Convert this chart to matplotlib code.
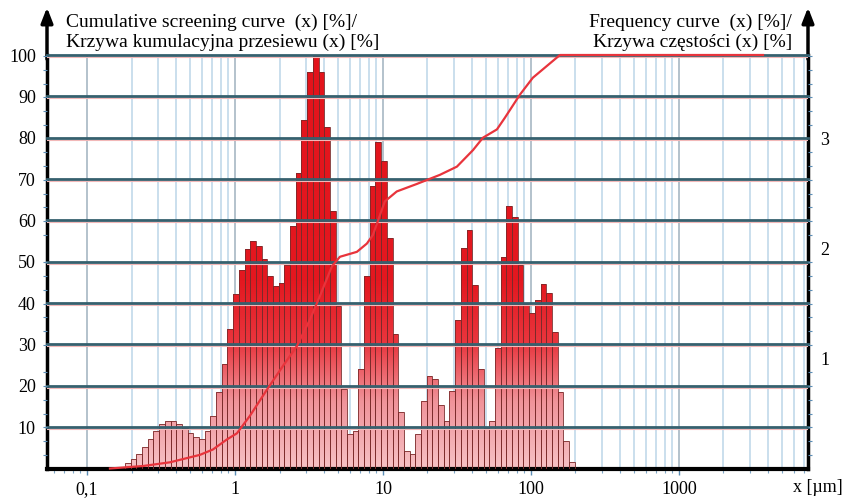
import numpy as np
import matplotlib
matplotlib.use('Agg')
import matplotlib.pyplot as plt
from matplotlib.colors import LinearSegmentedColormap
from matplotlib.path import Path
from matplotlib.ticker import FixedLocator, NullFormatter

plt.rcParams['font.family'] = ['Liberation Serif', 'DejaVu Serif']

# frequency histogram, one bar per size class (26 classes per decade, from 0.18 um)
first_edge = 0.1807
classes_per_decade = 26
freq = [1.3, 2.3, 3.5, 5.1, 7.1, 9.1, 10.7, 11.5, 11.5, 10.7, 9.7, 8.6, 7.5, 7.1, 9.1, 12.7,
        18.4, 25.2, 33.7, 42.1, 48.1, 53.0, 55.0, 53.8, 50.6, 46.5, 44.1, 44.9, 49.3, 58.6,
        71.5, 84.3, 96.0, 100.0, 96.0, 82.7, 62.2, 39.3, 19.2, 8.3, 9.0, 24.0, 46.5, 68.2, 79.0,
        74.3, 55.8, 32.5, 13.7, 4.3, 3.5, 8.3, 16.4, 22.4, 21.7, 15.3, 11.5, 18.8, 36.0, 53.4,
        57.6, 44.3, 24.0, 9.9, 11.4, 29.2, 51.1, 63.6, 60.8, 49.3, 39.7, 37.7, 40.7, 44.5, 42.5,
        32.9, 18.4, 6.7, 1.5]

# cumulative screening curve
cum_x = [0.143, 0.239, 0.364, 0.58, 0.71, 0.88, 1.03, 1.26, 1.64, 2.11, 2.62, 3.21, 3.75,
         4.52, 5.12, 6.67, 7.79, 8.56, 10.3, 12.4, 16.9, 24.2, 31.6, 40.6, 47.4, 58.9, 66.6,
         84.2, 103, 157, 3700]
cum_y = [0, 0.6, 1.5, 3.3, 4.6, 7.0, 8.5, 12.7, 19.0, 24.8, 29.6, 36.0, 41.7, 48.9, 51.2,
         52.4, 54.4, 56.5, 64.6, 67.0, 68.8, 71.0, 73.0, 77.0, 80.0, 82.0, 84.8, 90.4, 94.5,
         100, 100]

x_ticks = [0.1, 1, 10, 100, 1000]
x_ticklabels = ['0,1', '1', '10', '100', '1000']
left_ticks = [10, 20, 30, 40, 50, 60, 70, 80, 90, 100]
right_ticks = [1, 2, 3]

fig = plt.figure(figsize=(8.45, 4.99), dpi=100)
ax = fig.add_axes([47 / 845, 30.5 / 499, 761 / 845, 413.5 / 499])
ax.set_xscale('log')
ax.set_autoscale_on(False)
ax.set_xlim(0.0537, 7450)
ax.set_ylim(0, 100)

# vertical grid (log), from 0.1 upwards
for d in range(-1, 4):
    for m in range(1, 10):
        v = m * 10.0 ** d
        if v < 7400:
            ax.axvline(v, color='#9fb1bf' if m == 1 else '#bcd6e8', lw=1.1, zorder=1)

# bars with a vertical pink -> red gradient
edges = first_edge * 10 ** (np.arange(len(freq) + 1) / classes_per_decade)
lefts = edges[:-1]
widths = np.diff(edges)
cmap = LinearSegmentedColormap.from_list(
    'bars', [(0, '#f6c0c4'), (0.16, '#f0939a'), (0.3, '#e9363e'), (0.45, '#e41820'), (1, '#e3131b')])
grad = np.linspace(0, 1, 256).reshape(-1, 1)
im = ax.imshow(grad, extent=[0, 1, 0, 1], transform=ax.transAxes, origin='lower',
               cmap=cmap, aspect='auto', zorder=2, interpolation='bilinear')
paths = [Path([(l, 0), (l + w, 0), (l + w, h), (l, h), (l, 0)], closed=True)
         for l, w, h in zip(lefts, widths, freq)]
im.set_clip_path(Path.make_compound_path(*paths), transform=ax.transData)
ax.bar(lefts, freq, width=widths, align='edge', facecolor='none',
       edgecolor='#7a2a2a', linewidth=0.6, zorder=3)
ax.set_xlim(0.0537, 7450)
ax.set_ylim(0, 100)

# horizontal grid on top of the bars
for v in left_ticks:
    ax.axhline(v - 0.45, color='#f2b8b8', lw=0.8, zorder=3.5)
    ax.axhline(v, color='#36606e', lw=2.0, zorder=4, clip_on=False)

ax.plot(cum_x, cum_y, color='#e8343c', lw=1.6, zorder=5, clip_on=False)

for side in ['left', 'right']:
    ax.spines[side].set_linewidth(2.5)
ax.spines['bottom'].set_linewidth(3)
ax.spines['top'].set_visible(False)
for sx in [0, 1]:
    ax.annotate('', xy=(sx, 1.115), xytext=(sx, 0.99), xycoords='axes fraction',
                arrowprops=dict(arrowstyle='-|>,head_length=0.9,head_width=0.35',
                                lw=2.5, color='black', shrinkA=0, shrinkB=0),
                annotation_clip=False)

ax.set_xticks(x_ticks)
ax.set_xticklabels(x_ticklabels)
minor_x = [m * 10.0 ** d for d in range(-2, 4) for m in range(2, 10) if 0.055 < m * 10.0 ** d < 7400]
ax.xaxis.set_minor_locator(FixedLocator(minor_x))
ax.xaxis.set_minor_formatter(NullFormatter())
ax.tick_params(axis='x', which='major', length=4, width=1, color='#5b8db5',
               labelsize=13, pad=5)
ax.tick_params(axis='x', which='minor', length=3, width=0.8, color='#7fa6c6')
ax.set_yticks(left_ticks)
ax.tick_params(axis='y', which='major', length=0, labelsize=13, pad=8)

ax2 = ax.twinx()
ax2.set_ylim(0, 3.76)
ax2.set_yticks(right_ticks)
ax2.yaxis.set_minor_locator(FixedLocator(np.arange(0.125, 3.76, 0.125)))
ax2.yaxis.set_ticks_position('both')
ax2.tick_params(axis='y', which='major', length=0, labelsize=13, pad=9,
                labelleft=False, labelright=True)
ax2.tick_params(axis='y', which='minor', length=3, width=0.8, color='#5b8db5',
                direction='out')
for s in ax2.spines.values():
    s.set_visible(False)

fig.text(66 / 845, 1 - 22 / 499, 'Cumulative screening curve  (x) [%]/', fontsize=14,
         ha='left', va='center')
fig.text(66 / 845, 1 - 42 / 499, 'Krzywa kumulacyjna przesiewu (x) [%]', fontsize=14,
         ha='left', va='center')
fig.text(792 / 845, 1 - 22 / 499, 'Frequency curve  (x) [%]/', fontsize=14,
         ha='right', va='center')
fig.text(792 / 845, 1 - 42 / 499, 'Krzywa częstości (x) [%]', fontsize=14,
         ha='right', va='center')
fig.text(843 / 845, 1 - 488 / 499, 'x [µm]', fontsize=13, ha='right', va='center')

fig.savefig('out.png', dpi=100)
